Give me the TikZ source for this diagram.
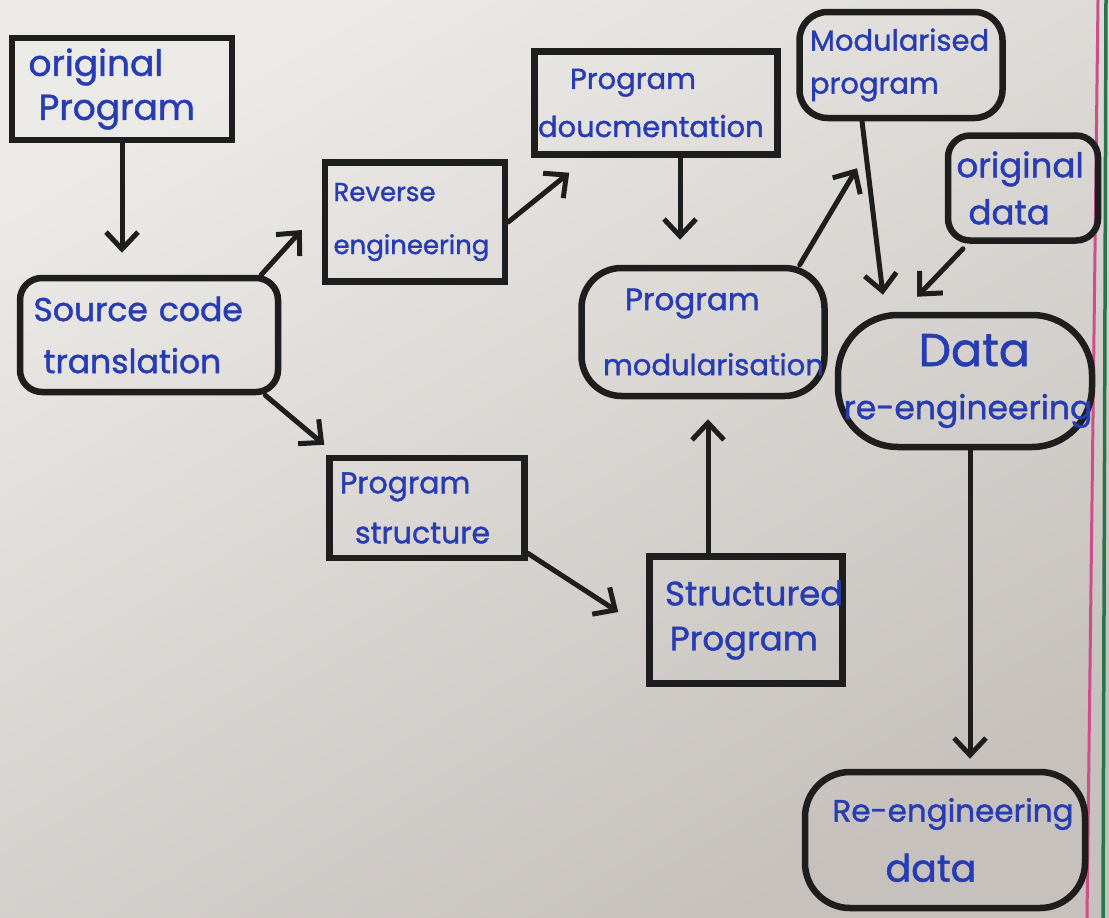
\documentclass[tikz,border=0pt]{standalone}
\usepackage{fontspec}
\setmainfont{Poppins}[FakeBold=1.3]
\usetikzlibrary{arrows.meta}
\definecolor{paperlight}{RGB}{236,234,231}
\definecolor{paperdark}{RGB}{198,193,189}
\definecolor{inkblue}{RGB}{40,60,178}
\definecolor{inkblack}{RGB}{30,30,30}
\definecolor{marginpink}{RGB}{206,78,138}
\definecolor{margingreen}{RGB}{40,118,72}
\tikzset{
  box/.style={draw=inkblack, line width=6.5pt, text=inkblue, inner ysep=2pt, align=left},
  roundbox/.style={box, rounded corners=#1},
  size/.style args={#1x#2 pad #3}{minimum width=#1, minimum height=#2,
    inner xsep=#3, text width=#1-2*#3-1pt},
  flow/.style={draw=inkblack, line width=5pt, line cap=round,
    -{Straight Barb[length=17pt,width=32pt,line width=5pt]}},
  txt/.style args={#1/#2}{font=\fontsize{#1}{#2}\selectfont},
}
\newcommand\sizedtext[2]{{\fontsize{#1}{#1}\selectfont #2}}
\begin{document}
\begin{tikzpicture}[x=1pt,y=-1pt]
  % paper
  \useasboundingbox (0,0) rectangle (1109,918);
  \shade[shading=axis, top color=paperlight, bottom color=paperdark, shading angle=30]
    (0,0) rectangle (1109,918);
  % margin lines
  \draw[marginpink, line width=3pt] (1098,0) -- (1087,918);
  \draw[margingreen, line width=3.5pt] (1106,0) -- (1103,918);

  % boxes
  \node[box, size=220pt x 102pt pad 16pt, txt=36/44]
    (orig) at (122,89) {original\\\hspace*{10pt}Program};
  \node[roundbox=22pt, size=258pt x 114pt pad 13pt, txt=33/52]
    (src) at (149,335) {Source code\\\hspace*{10pt}translation};
  \node[box, size=180pt x 119pt pad 8pt, txt=26/53]
    (rev) at (415,222) {Reverse\\\rlap{engineering}};
  \node[box, size=243pt x 103pt pad 3pt, txt=29/48]
    (doc) at (656,103) {\hspace*{32pt}Program\\\rlap{doucmentation}};
  \node[roundbox=28pt, size=203pt x 106pt pad 10pt, txt=29/43]
    (modp) at (901,65) {Modularised\\program};
  \node[roundbox=22pt, size=150pt x 105pt pad 8pt, txt=34/47]
    (odata) at (1023,188) {\rlap{original}\\\hspace*{12pt}data};
  \node[roundbox=40pt, size=243pt x 128pt pad 21pt, txt=31/65]
    (pmod) at (703,332) {\hspace*{22pt}Program\\\rlap{\sizedtext{29}{modularisation}}};
  \node[roundbox=60pt, size=254pt x 132pt pad 5pt, txt=33/53]
    (dre) at (965,381) {\hspace*{75pt}\sizedtext{46}{Data}\\\rlap{re-engineering}};
  \node[box, size=195pt x 100pt pad 10pt, txt=30/50]
    (pstr) at (427,508) {Program\\\hspace*{15pt}structure};
  \node[box, size=193pt x 127pt pad 15pt, txt=34/45]
    (spr) at (746,620) {\rlap{Structured}\\\hspace*{5pt}Program};
  \node[roundbox=45pt, size=280pt x 136pt pad 27pt, txt=31/60]
    (red) at (945,840) {\rlap{Re-engineering}\\\hspace*{53pt}\sizedtext{38}{data}};

  % connectors
  \draw[flow] (orig.south) -- ([yshift=22pt]orig.south |- src.north);
  \draw[flow] ([xshift=-20pt]src.north east) -- ([xshift=-20pt,yshift=-8pt]rev.west);
  \draw[flow] (rev.east) -- ([xshift=38pt,yshift=-15pt]doc.south west);
  \draw[flow] ([xshift=24pt]doc.south) -- ([xshift=-23pt,yshift=25pt]pmod.north);
  \draw[flow] ([xshift=-16pt]src.south east) -- ([xshift=-2pt,yshift=10pt]pstr.north west);
  \draw[flow] ([yshift=8pt]pstr.south east) -- ([xshift=-28pt,yshift=8pt]spr.west);
  \draw[flow] ([xshift=-38pt]spr.north) -- ([xshift=5pt,yshift=-20pt]pmod.south);
  \draw[flow] ([xshift=-28pt]pmod.north east) -- ([xshift=-44pt,yshift=-47pt]modp.south);
  \draw[flow] ([xshift=-39pt]modp.south) -- ([xshift=-82pt,yshift=17pt]dre.north);
  \draw[flow] ([xshift=-60pt,yshift=-5pt]odata.south) -- ([xshift=-48pt,yshift=15pt]dre.north);
  \draw[flow] ([xshift=5pt]dre.south) -- ([xshift=25pt,yshift=10pt]red.north);
\end{tikzpicture}
\end{document}
